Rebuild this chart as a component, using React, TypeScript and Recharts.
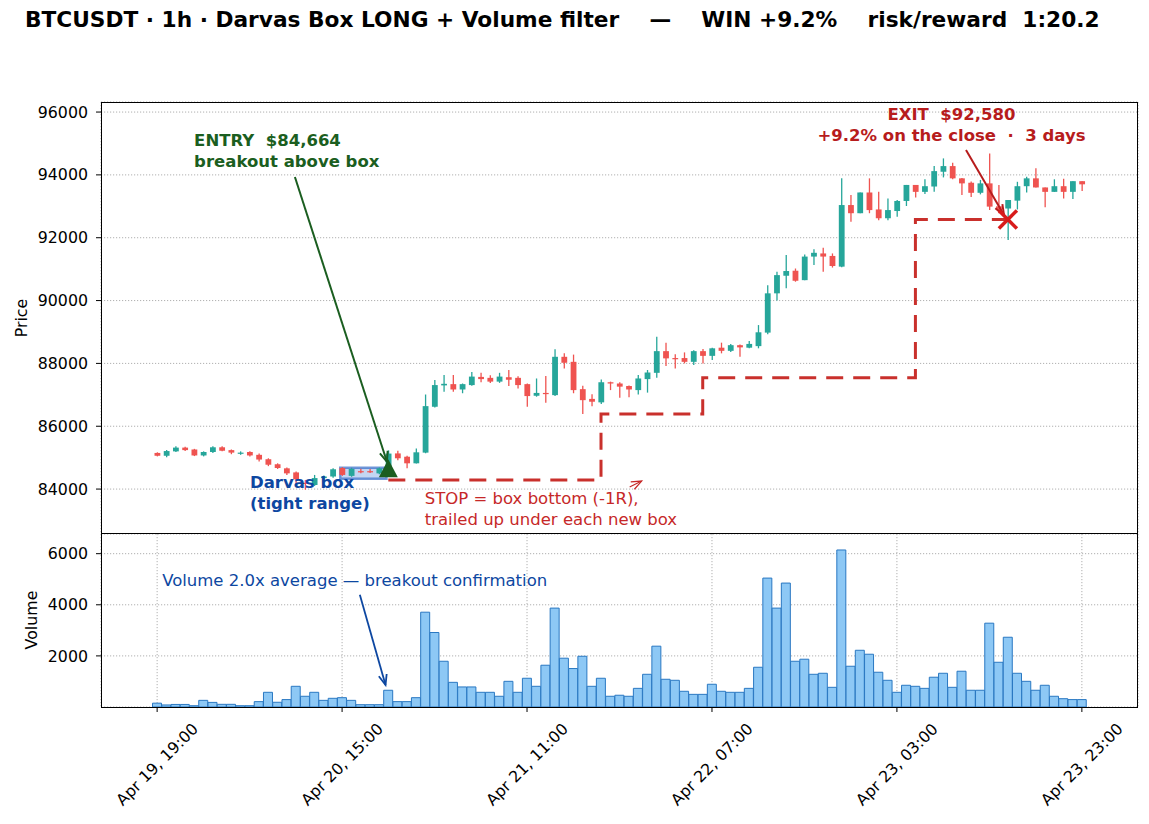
import {
  ComposedChart, Bar, Line, XAxis, YAxis, CartesianGrid,
  ReferenceArea, ReferenceDot, ReferenceLine
} from 'recharts';

const FONT = '"DejaVu Sans", sans-serif';
const UP = '#26a69a';
const DOWN = '#ef5350';
const GRID = '#b0b0b0';

// hourly bars, Apr 19 19:00 -> Apr 23 23:00
const tickBars = [0, 20, 40, 60, 80, 100];
const tickLabels = ['Apr 19, 19:00', 'Apr 20, 15:00', 'Apr 21, 11:00', 'Apr 22, 07:00', 'Apr 23, 03:00', 'Apr 23, 23:00'];

const opens = [
  85150, 85060, 85200, 85320, 85260, 85070, 85180, 85330, 85240, 85150,
  85180, 85090, 84950, 84790, 84660, 84530, 84200, 84130, 84350, 84400,
  84670, 84420, 84570, 84570, 84500, 84660, 85135, 85030, 84820, 85160,
  86620, 87300, 87340, 87170, 87310, 87570, 87540, 87420, 87560, 87540,
  87340, 86970, 87060, 86990, 88210, 88050, 87180, 86870, 86760, 87400,
  87360, 87280, 87150, 87500, 87700, 88390, 88170, 88170, 88050, 88390,
  88240, 88500, 88400, 88580, 88500, 88550, 88980, 90230, 90790, 90950,
  90650, 91400, 91500, 91420, 91080, 93040, 92780, 93440, 92900, 92620,
  92850, 93170, 93680, 93460, 93630, 94100, 94280, 93890, 93750, 93430,
  93730, 93000, 92930, 93180, 93640, 93890, 93600, 93460, 93640, 93460,
  93800,
];
const highs = [
  85170, 85240, 85360, 85350, 85280, 85200, 85360, 85360, 85260, 85200,
  85200, 85130, 84980, 84820, 84690, 84560, 84290, 84450, 84430, 84660,
  84700, 84680, 84650, 84640, 84690, 85230, 85220, 85060, 85290, 87010,
  87470, 87630, 87630, 87360, 87730, 87700, 87620, 87700, 87790, 87590,
  87360, 87520, 87600, 88450, 88320, 88280, 87290, 87020, 87490, 87420,
  87400, 87300, 87630, 87790, 88850, 88660, 88290, 88350, 88420, 88460,
  88500, 88660, 88620, 88600, 88710, 89220, 90490, 90920, 91450, 91020,
  91470, 91630, 91680, 91500, 93890, 93360, 93440, 93890, 93460, 93250,
  93200, 93680, 93680, 93860, 94280, 94525, 94390, 93900, 93790, 93840,
  94680, 93680, 93200, 93780, 93940, 94210, 93600, 93860, 93880, 93800,
  93800,
];
const lows = [
  85040, 85010, 85180, 85210, 85050, 85040, 85150, 85200, 85110, 85090,
  85040, 84880, 84730, 84640, 84450, 84130, 83980, 84100, 84300, 84360,
  84420, 84390, 84500, 84510, 84470, 84600, 84920, 84660, 84810, 85140,
  86600, 87100, 87100, 87050, 87290, 87400, 87380, 87380, 87280, 87200,
  86620, 86940, 86750, 86960, 87840, 87050, 86390, 86640, 86710, 87150,
  86910, 86920, 87010, 87070, 87540, 87920, 87840, 88000, 87950, 88000,
  88110, 88320, 88360, 88210, 88480, 88480, 88930, 90000, 90390, 90600,
  90650, 91130, 90920, 91050, 91060, 92510, 92780, 92780, 92560, 92560,
  92670, 93010, 93280, 93390, 93460, 93920, 93860, 93360, 93300, 93380,
  92880, 92780, 91930, 92900, 93440, 93600, 92970, 93460, 93250, 93230,
  93490,
];
const closes = [
  85060, 85210, 85320, 85240, 85070, 85180, 85330, 85220, 85160, 85160,
  85070, 84940, 84775, 84670, 84500, 84310, 84180, 84350, 84400, 84630,
  84450, 84640, 84550, 84550, 84660, 85130, 84980, 84820, 85170, 86640,
  87310, 87350, 87170, 87340, 87580, 87500, 87420, 87580, 87480, 87310,
  86960, 87060, 87030, 88210, 88020, 87150, 86830, 86780, 87400, 87360,
  87260, 87170, 87520, 87710, 88390, 88160, 88140, 88050, 88390, 88240,
  88480, 88400, 88580, 88510, 88620, 88990, 90230, 90810, 90940, 90630,
  91400, 91520, 91400, 91100, 93040, 92780, 93440, 92880, 92620, 92880,
  93170, 93680, 93460, 93640, 94120, 94280, 93890, 93730, 93430, 93730,
  92990, 92880, 93200, 93640, 93890, 93600, 93460, 93640, 93460, 93800,
  93700,
];
const volumes = [
  150, 80, 100, 100, 50, 260, 180, 105, 105, 50,
  50, 210, 575, 185, 290, 810, 420, 575, 260, 340,
  365, 260, 90, 90, 90, 655, 210, 210, 365, 3710,
  2915, 1790, 965, 785, 785, 575, 575, 420, 1005, 575,
  1125, 810, 1635, 3870, 1910, 1505, 1985, 810, 1125, 420,
  460, 420, 730, 1280, 2380, 1085, 1045, 615, 495, 495,
  890, 615, 575, 575, 730, 1555, 5045, 3870, 4850, 1790,
  1870, 1280, 1320, 770, 6145, 1595, 2220, 2065, 1360, 1045,
  575, 850, 810, 730, 1165, 1320, 770, 1400, 655, 655,
  3280, 1750, 2730, 1320, 1005, 655, 850, 420, 325, 290,
  290,
];

// trade
const entryBar = 25;
const entryPrice = 84664;
const exitBar = 92;
const exitPrice = 92580;
// trailing stop levels and the bar each one starts on
const stopLevels = [84290, 86390, 87540, 92580];
const stopFrom = [25, 48, 59, 82];
// darvas box: bar span and price range
const boxBars = [19.8, 24.8];
const boxRange = [84330, 84680];

const priceTicks = [84000, 86000, 88000, 90000, 92000, 94000, 96000];
const volumeTicks = [2000, 4000, 6000];
const X_DOMAIN = [-6.07, 106.07];
const PRICE_DOMAIN = [82570, 96320];
const VOLUME_DOMAIN = [0, 6770];

const rows = opens.map((o, i) => {
  let stop: number | null = null;
  if (i >= stopFrom[0] && i <= exitBar) {
    let k = 0;
    while (k + 1 < stopFrom.length && stopFrom[k + 1] <= i) k++;
    stop = stopLevels[k];
  }
  return { i, o, h: highs[i], l: lows[i], c: closes[i], v: volumes[i], stop };
});

const Candle = (props: any) => {
  const { x, y, width, height, payload } = props;
  const { o, h, l, c } = payload;
  const color = c >= o ? UP : DOWN;
  const k = h === l ? 0 : height / (h - l);
  const yOf = (v: number) => y + (h - v) * k;
  const top = yOf(Math.max(o, c));
  const bot = yOf(Math.min(o, c));
  const cx = x + width / 2;
  return (
    <g>
      <line x1={cx} x2={cx} y1={y} y2={y + height} stroke={color} strokeWidth={1.3} />
      <rect x={x} y={top} width={width} height={Math.max(bot - top, 1.2)} fill={color} />
    </g>
  );
};

const Arrow = (props: any) => {
  const { x1, y1, x2, y2, color, w } = props;
  const ang = Math.atan2(y2 - y1, x2 - x1);
  const len = 11;
  const spread = 0.38;
  const ax = x2 - len * Math.cos(ang - spread);
  const ay = y2 - len * Math.sin(ang - spread);
  const bx = x2 - len * Math.cos(ang + spread);
  const by = y2 - len * Math.sin(ang + spread);
  return (
    <g>
      <line x1={x1} y1={y1} x2={x2} y2={y2} stroke={color} strokeWidth={w} />
      <path d={`M${ax},${ay} L${x2},${y2} L${bx},${by}`} fill="none" stroke={color} strokeWidth={w} />
    </g>
  );
};

const Note = ({ cx, cy, lines, color, bold, anchor }: any) => (
  <text
    x={cx} y={cy} fill={color} fontSize={16.5} fontFamily={FONT}
    fontWeight={bold ? 'bold' : 'normal'} textAnchor={anchor}
    style={{ whiteSpace: 'pre' }}
  >
    {lines.map((t: string, k: number) => (
      <tspan key={k} x={cx} dy={k === 0 ? 0 : 21}>{t}</tspan>
    ))}
  </text>
);

const EntryMark = ({ cx, cy }: any) => (
  <path d={`M${cx - 9.5},${cy + 9} L${cx + 9.5},${cy + 9} L${cx},${cy - 9} Z`} fill="#1b5e20" />
);

const ExitMark = ({ cx, cy }: any) => (
  <g stroke="#d81b1b" strokeWidth={3.5}>
    <line x1={cx - 9} y1={cy - 9} x2={cx + 9} y2={cy + 9} />
    <line x1={cx - 9} y1={cy + 9} x2={cx + 9} y2={cy - 9} />
  </g>
);

const DateTick = ({ x, y, payload }: any) => {
  const label = tickLabels[tickBars.indexOf(payload.value)] ?? '';
  const ax = x + 42;
  const ay = y + 18;
  return (
    <text x={ax} y={ay} textAnchor="end" fontSize={15.8} fontFamily={FONT} fill="#000"
      transform={`rotate(-45, ${ax}, ${ay})`}>
      {label}
    </text>
  );
};

const yTick = { fill: '#000', fontSize: 15.8, fontFamily: FONT };

export default function App() {
  return (
    <div style={{ position: 'absolute', left: 0, top: 0, width: 1149, height: 824, background: '#fff', overflow: 'hidden' }}>
      <div style={{
        position: 'absolute', left: 25, top: 9, whiteSpace: 'pre', fontFamily: FONT,
        fontWeight: 'bold', fontSize: 21.7, lineHeight: '22px', color: '#000',
      }}>
        {'BTCUSDT · 1h · Darvas Box LONG + Volume filter    —    WIN +9.2%    risk/reward  1:20.2'}
      </div>

      {/* price panel */}
      <div style={{ position: 'absolute', left: 0, top: 0 }}>
        <ComposedChart width={1149} height={534} data={rows} margin={{ top: 102, right: 11, bottom: 0, left: 0 }}>
          <CartesianGrid stroke={GRID} strokeDasharray="1.2 1.8" />
          <XAxis dataKey="i" type="number" domain={X_DOMAIN} ticks={tickBars} allowDataOverflow
            height={0} tick={false} tickLine={false} axisLine={false} />
          <YAxis type="number" domain={PRICE_DOMAIN} ticks={priceTicks} allowDataOverflow width={101}
            tickSize={5} tickMargin={8} tick={yTick} axisLine={false} tickLine={{ stroke: '#000' }} />
          <Bar dataKey={(d: any) => [d.l, d.h]} barSize={5.8} shape={<Candle />} isAnimationActive={false} />
          <ReferenceArea x1={boxBars[0]} x2={boxBars[1]} y1={boxRange[0]} y2={boxRange[1]}
            fill="#3b78d8" fillOpacity={0.3} stroke="#2a62c4" strokeOpacity={0.65} strokeWidth={2.5}
            ifOverflow="visible" />
          <Line dataKey="stop" type="stepAfter" stroke="#c9302c" strokeWidth={3} strokeDasharray="17 10"
            dot={false} activeDot={false} isAnimationActive={false} />
          <ReferenceDot x={entryBar} y={entryPrice} r={0} ifOverflow="visible"
            shape={(p: any) => <EntryMark cx={p.cx} cy={p.cy} />} />
          <ReferenceDot x={exitBar} y={exitPrice} r={0} ifOverflow="visible"
            shape={(p: any) => <ExitMark cx={p.cx} cy={p.cy} />} />

          <ReferenceLine segment={[{ x: 14.9, y: 93931 }, { x: 24.85, y: 84870 }]} ifOverflow="visible"
            shape={(p: any) => <Arrow {...p} color="#1b5e20" w={2} />} />
          <ReferenceLine segment={[{ x: 87.47, y: 94790 }, { x: 91.58, y: 92721 }]} ifOverflow="visible"
            shape={(p: any) => <Arrow {...p} color="#b71c1c" w={2} />} />
          <ReferenceLine segment={[{ x: 51.1, y: 84064 }, { x: 52.4, y: 84255 }]} ifOverflow="visible"
            shape={(p: any) => <Arrow {...p} color="#c62828" w={1.2} />} />

          <ReferenceDot x={4.0} y={94918} r={0} ifOverflow="visible"
            shape={(p: any) => <Note cx={p.cx} cy={p.cy} anchor="start" bold color="#1b5e20"
              lines={['ENTRY  $84,664', 'breakout above box']} />} />
          <ReferenceDot x={85.9} y={95745} r={0} ifOverflow="visible"
            shape={(p: any) => <Note cx={p.cx} cy={p.cy} anchor="middle" bold color="#b71c1c"
              lines={['EXIT  $92,580', '+9.2% on the close  ·  3 days']} />} />
          <ReferenceDot x={10.04} y={84032} r={0} ifOverflow="visible"
            shape={(p: any) => <Note cx={p.cx} cy={p.cy} anchor="start" bold color="#0d47a1"
              lines={['Darvas box', '(tight range)']} />} />
          <ReferenceDot x={28.94} y={83523} r={0} ifOverflow="visible"
            shape={(p: any) => <Note cx={p.cx} cy={p.cy} anchor="start" color="#c62828"
              lines={['STOP = box bottom (-1R),', 'trailed up under each new box']} />} />
        </ComposedChart>
      </div>

      {/* volume panel */}
      <div style={{ position: 'absolute', left: 0, top: 534 }}>
        <ComposedChart width={1149} height={290} data={rows} margin={{ top: 0, right: 11, bottom: 0, left: 0 }}>
          <CartesianGrid stroke={GRID} strokeDasharray="1.2 1.8" />
          <XAxis dataKey="i" type="number" domain={X_DOMAIN} ticks={tickBars} allowDataOverflow interval={0}
            height={117} tickSize={5} tickMargin={0} tick={<DateTick />} axisLine={false}
            tickLine={{ stroke: '#000' }} />
          <YAxis type="number" domain={VOLUME_DOMAIN} ticks={volumeTicks} allowDataOverflow width={101}
            tickSize={5} tickMargin={8} tick={yTick} axisLine={false} tickLine={{ stroke: '#000' }} />
          <Bar dataKey="v" barSize={9} fill="#8dc8f5" stroke="#2a78c2" strokeWidth={1} isAnimationActive={false} />
          <ReferenceLine segment={[{ x: 21.92, y: 4392 }, { x: 24.7, y: 863 }]} ifOverflow="visible"
            shape={(p: any) => <Arrow {...p} color="#0d47a1" w={1.8} />} />
          <ReferenceDot x={0.54} y={4745} r={0} ifOverflow="visible"
            shape={(p: any) => <Note cx={p.cx} cy={p.cy} anchor="start" color="#0d47a1"
              lines={['Volume 2.0x average — breakout confirmation']} />} />
        </ComposedChart>
      </div>

      {/* panel frames and axis titles */}
      <div style={{ position: 'absolute', left: 101, top: 102, width: 1037, height: 432, border: '1px solid #000', boxSizing: 'border-box', pointerEvents: 'none' }} />
      <div style={{ position: 'absolute', left: 101, top: 533, width: 1037, height: 175, border: '1px solid #000', boxSizing: 'border-box', pointerEvents: 'none' }} />
      <svg width={1149} height={824} style={{ position: 'absolute', left: 0, top: 0, pointerEvents: 'none' }}>
        <text x={21} y={318} transform="rotate(-90, 21, 318)" textAnchor="middle" dominantBaseline="central"
          fontSize={15.8} fontFamily={FONT} fill="#000">Price</text>
        <text x={31} y={620} transform="rotate(-90, 31, 620)" textAnchor="middle" dominantBaseline="central"
          fontSize={15.8} fontFamily={FONT} fill="#000">Volume</text>
      </svg>
    </div>
  );
}
